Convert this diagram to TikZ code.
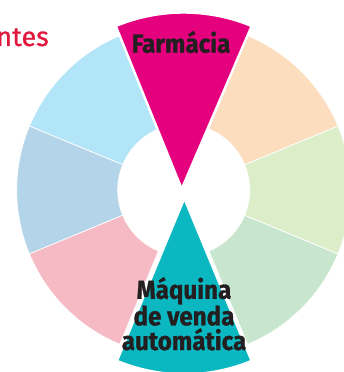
\documentclass[tikz,border=0pt]{standalone}
\usepackage{fontspec}
\setmainfont{Fira Sans}
\newfontfamily\condfont[FakeStretch=0.93, BoldFeatures={FakeBold=1}]{Fira Sans}
\newfontfamily\redfont[FakeBold=0.8]{Fira Sans}
\definecolor{cPeach}{HTML}{FCDDBE}
\definecolor{cMag}{HTML}{E5007D}
\definecolor{cLBlue}{HTML}{B3E5F9}
\definecolor{cBGray}{HTML}{B4D4E9}
\definecolor{cPink}{HTML}{F5BAC4}
\definecolor{cTeal}{HTML}{0BB8C1}
\definecolor{cLGreen}{HTML}{C8E6CD}
\definecolor{cPGreen}{HTML}{DCEDCA}
\definecolor{cRed}{HTML}{E2173D}
\definecolor{cInk}{HTML}{231F20}
\newcommand{\annsec}[3]{%
  \path[ringsec, fill=#1] (#2:66) -- (#2:167) arc[start angle=#2, end angle=#3, radius=167]
    -- (#3:66) arc[start angle=#3, end angle=#2, radius=66] -- cycle;}
\tikzset{
  ringsec/.style={draw=white, line width=0.7pt},
  bigsec/.style={draw=white, line width=2.4pt, line join=miter},
  lbl/.style={font=\condfont\bfseries\fontsize{26}{24.7}\selectfont, text=cInk, inner sep=0pt, anchor=base},
}
\begin{document}
\begin{tikzpicture}[x=1pt,y=1pt]
\useasboundingbox (0,0) rectangle (343,372);
\begin{scope}[shift={(183.7,182)}]
  \annsec{cPeach}{22.5}{67.5}
  \annsec{cLBlue}{112.5}{157.5}
  \annsec{cBGray}{157.5}{202.5}
  \annsec{cPink}{202.5}{247.5}
  \annsec{cLGreen}{292.5}{337.5}
  \annsec{cPGreen}{337.5}{382.5}
  \path[bigsec, fill=cMag] (-2,1) -- (67.5:177.5) arc[start angle=67.5, end angle=112.5, radius=177.5] -- cycle;
\end{scope}
\begin{scope}[shift={(184.3,173.7)}]
  \path[bigsec, fill=cTeal] (0,0) -- (247.5:176) arc[start angle=247.5, end angle=292.5, radius=176] -- cycle;
\end{scope}
\node[lbl] (farm) at (181,319.3) {Farmácia};
\node[lbl, align=center] (maq) at (184,22) {Máquina\\de venda\\automática};
\node[font=\redfont\fontsize{27}{27}\selectfont, text=cRed, inner sep=0pt, anchor=base east] (ntes) at (49,326) {ntes};
\end{tikzpicture}
\end{document}
